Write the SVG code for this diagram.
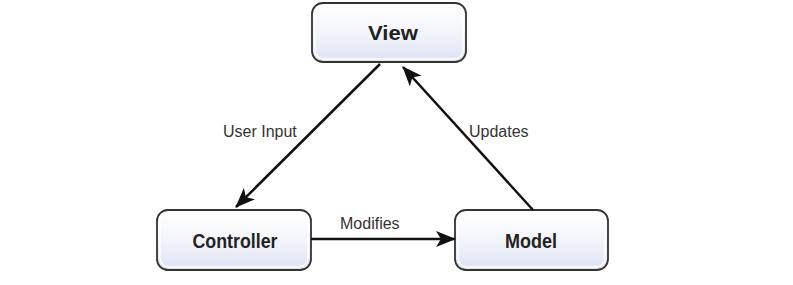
<svg xmlns="http://www.w3.org/2000/svg" width="793" height="285" viewBox="0 0 793 285">
<defs>
<linearGradient id="g" x1="0" y1="0" x2="0" y2="1">
<stop offset="0" stop-color="#ffffff"/>
<stop offset="0.5" stop-color="#f3f5fb"/>
<stop offset="1" stop-color="#dde2f2"/>
</linearGradient>
<marker id="ah" viewBox="0 0 20 16" refX="19" refY="8" markerWidth="20" markerHeight="16" markerUnits="userSpaceOnUse" orient="auto">
<path d="M0,0 L20,8 L0,16 L5,8 Z" fill="#111"/>
</marker>
<style>
.box{fill:url(#g);stroke:#333;stroke-width:1.8}
.inner{fill:none;stroke:#fff;stroke-width:1.5;opacity:0.9}
.title{font-family:"Liberation Sans",Arial,sans-serif;font-weight:bold;font-size:21px;fill:#222;text-anchor:middle}
.lbl{font-family:"Liberation Sans",Arial,sans-serif;font-size:16px;fill:#333}
.conn{stroke:#111;stroke-width:2.5;fill:none}
</style>
</defs>
<rect width="793" height="285" fill="#fff"/>
<g id="view">
<rect class="box" x="312" y="3" width="154" height="59" rx="11"/>
<rect class="inner" x="315" y="6" width="148" height="53" rx="9"/>
<text class="title" x="393" y="40" textLength="50" lengthAdjust="spacingAndGlyphs">View</text>
</g>
<g id="controller">
<rect class="box" x="157" y="210" width="154" height="60" rx="11"/>
<rect class="inner" x="160" y="213" width="148" height="54" rx="9"/>
<text class="title" x="235" y="248" textLength="85" lengthAdjust="spacingAndGlyphs">Controller</text>
</g>
<g id="model">
<rect class="box" x="455" y="210" width="153" height="60" rx="11"/>
<rect class="inner" x="458" y="213" width="147" height="54" rx="9"/>
<text class="title" x="531" y="248" textLength="52" lengthAdjust="spacingAndGlyphs">Model</text>
</g>
<g id="connectors">
<line class="conn" x1="380" y1="64" x2="236" y2="207" marker-end="url(#ah)"/>
<line class="conn" x1="533" y1="210" x2="403" y2="67" marker-end="url(#ah)"/>
<line class="conn" x1="311" y1="239" x2="455" y2="239" marker-end="url(#ah)"/>
<text class="lbl" x="223" y="137">User Input</text>
<text class="lbl" x="469" y="137">Updates</text>
<text class="lbl" x="340" y="229">Modifies</text>
</g>
</svg>
